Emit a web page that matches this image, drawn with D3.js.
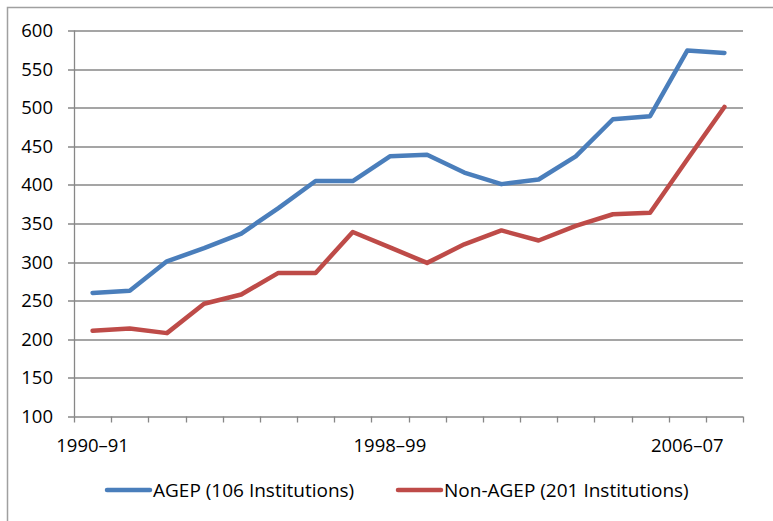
<!DOCTYPE html>
<html>
<head>
<meta charset="utf-8">
<script src="https://cdn.jsdelivr.net/npm/d3@7"></script>
<style>
  body { margin: 0; background: #fff; }
  svg { font-family: "Open Sans", sans-serif; }
  .axis text { font-size: 18.5px; fill: #000; }
  .legend text { font-size: 19px; fill: #000; }
</style>
</head>
<body>
<svg id="chart" width="773" height="521"></svg>
<script>
// years (18 school years)
var years = ["1990–91","1991–92","1992–93","1993–94","1994–95","1995–96","1996–97","1997–98",
             "1998–99","1999–00","2000–01","2001–02","2002–03","2003–04","2004–05","2005–06",
             "2006–07","2007–08"];
var tickYears = ["1990–91","1998–99","2006–07"];
var yTicks = [100,150,200,250,300,350,400,450,500,550,600];

var agep    = [260, 263, 301, 318, 337, 370, 405, 405, 437, 439, 416, 401, 407, 437, 485, 489, 574, 571];
var nonAgep = [211, 214, 208, 246, 258, 286, 286, 339, 319, 299, 323, 341, 328, 347, 362, 364, 433, 501];

var seriesNames = ["AGEP (106 Institutions)", "Non-AGEP (201 Institutions)"];
var colors = ["#4a7ebb", "#be4b48"];

var margin = {top: 30.5, left: 74, right: 30, bottom: 104.5},
    w = 743 - margin.left,
    h = 416.5 - margin.top;

var svg = d3.select("#chart");

// outer frame
svg.append("rect")
   .attr("x", 7.5).attr("y", 7.5)
   .attr("width", 800).attr("height", 600)
   .attr("fill", "none")
   .attr("stroke", "#a0a0a0")
   .attr("stroke-width", 1.5);

var g = svg.append("g")
   .attr("transform", "translate(" + margin.left + "," + margin.top + ")");

var xScale = d3.scaleBand().domain(years).range([0, w]);
var yScale = d3.scaleLinear().domain([100, 600]).range([h, 0]);

// gridlines
g.append("g")
 .selectAll("line")
 .data(yTicks)
 .enter().append("line")
 .attr("x1", -6).attr("x2", w)
 .attr("y1", function(d) { return Math.round(yScale(d)) + 0.5; })
 .attr("y2", function(d) { return Math.round(yScale(d)) + 0.5; })
 .attr("stroke", "#878787")
 .attr("stroke-width", 1.3);

// y axis line
g.append("line")
 .attr("x1", 0.5).attr("x2", 0.5)
 .attr("y1", 0).attr("y2", h)
 .attr("stroke", "#878787").attr("stroke-width", 1.3);

// y labels
var yAxis = g.append("g").attr("class", "axis");
yAxis.selectAll("text")
 .data(yTicks)
 .enter().append("text")
 .attr("x", -21)
 .attr("y", function(d) { return yScale(d); })
 .attr("dy", "0.35em")
 .attr("text-anchor", "end")
 .text(function(d) { return d; });

// x axis ticks at category boundaries
var bounds = years.map(function(d) { return xScale(d); }).concat([w]);
g.append("g")
 .selectAll("line")
 .data(bounds)
 .enter().append("line")
 .attr("x1", function(d) { return Math.round(d) + 0.5; })
 .attr("x2", function(d) { return Math.round(d) + 0.5; })
 .attr("y1", h).attr("y2", h + 6)
 .attr("stroke", "#878787").attr("stroke-width", 1.3);

var xAxis = g.append("g").attr("class", "axis");
xAxis.selectAll("text")
 .data(tickYears)
 .enter().append("text")
 .attr("x", function(d) { return xScale(d) + xScale.bandwidth() / 2; })
 .attr("y", h + 35)
 .attr("text-anchor", "middle")
 .text(function(d) { return d; });

// lines
var line = d3.line()
 .x(function(d, i) { return xScale(years[i]) + xScale.bandwidth() / 2; })
 .y(function(d) { return yScale(d); });

[agep, nonAgep].forEach(function(s, i) {
  g.append("path")
   .datum(s)
   .attr("fill", "none")
   .attr("stroke", colors[i])
   .attr("stroke-width", 4.5)
   .attr("stroke-linejoin", "round")
   .attr("stroke-linecap", "round")
   .attr("d", line);
});

// legend
var legendX = [107, 398];
var legend = svg.append("g").attr("class", "legend");
seriesNames.forEach(function(name, i) {
  legend.append("line")
   .attr("x1", legendX[i]).attr("x2", legendX[i] + 43)
   .attr("y1", 490).attr("y2", 490)
   .attr("stroke", colors[i])
   .attr("stroke-width", 4.5)
   .attr("stroke-linecap", "round");
  legend.append("text")
   .attr("x", legendX[i] + 46)
   .attr("y", 490)
   .attr("dy", "0.35em")
   .text(name);
});
</script>
</body>
</html>
